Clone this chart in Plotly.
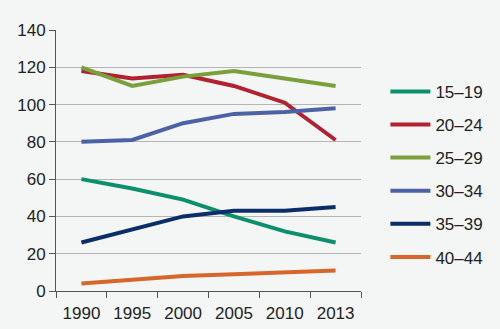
import plotly.graph_objects as go

years = ["1990", "1995", "2000", "2005", "2010", "2013"]
series_names = ["15–19", "20–24", "25–29", "30–34", "35–39", "40–44"]
v15_19 = [60, 55, 49, 40, 32, 26]
v20_24 = [118, 114, 116, 110, 101, 81]
v25_29 = [120, 110, 115, 118, 114, 110]
v30_34 = [80, 81, 90, 95, 96, 98]
v35_39 = [26, 33, 40, 43, 43, 45]
v40_44 = [4, 6, 8, 9, 10, 11]
colors = ["#0b8f6c", "#b3202f", "#79a03a", "#4b62a6", "#0b2e6b", "#d7662a"]

values = [v15_19, v20_24, v25_29, v30_34, v35_39, v40_44]

fig = go.Figure()
for name, vals, c in zip(series_names, values, colors):
    fig.add_trace(go.Scatter(x=years, y=vals, name=name, mode="lines",
                             line=dict(color=c, width=4), legendgroup=name))

font = dict(family="Liberation Sans, Arial, sans-serif", size=17, color="#222222")
fig.update_layout(
    width=500, height=329,
    margin=dict(l=56, r=137, t=30, b=38),
    paper_bgcolor="#f4f6f6", plot_bgcolor="#f4f6f6",
    font=font,
    showlegend=True,
    legend=dict(x=1.08, y=0.832, xanchor="left", yanchor="top",
                bgcolor="rgba(0,0,0,0)", tracegroupgap=8, font=font,
                itemwidth=40),
    xaxis=dict(type="category", range=[-0.5, 5.5], showline=True, linecolor="#555555", linewidth=1,
               ticks="outside", tickson="boundaries", ticklen=6, tickcolor="#555555",
               ticklabelstandoff=7, automargin=False,
               showgrid=False, zeroline=False, tickfont=font),
    yaxis=dict(range=[0, 140], dtick=20, showline=True, linecolor="#555555", linewidth=1,
               ticks="outside", ticklen=6, tickcolor="#555555", automargin=False,
               showgrid=True, gridcolor="#b5b5b5", gridwidth=1, zeroline=False,
               tickfont=font),
)
fig.write_html("out.html")
